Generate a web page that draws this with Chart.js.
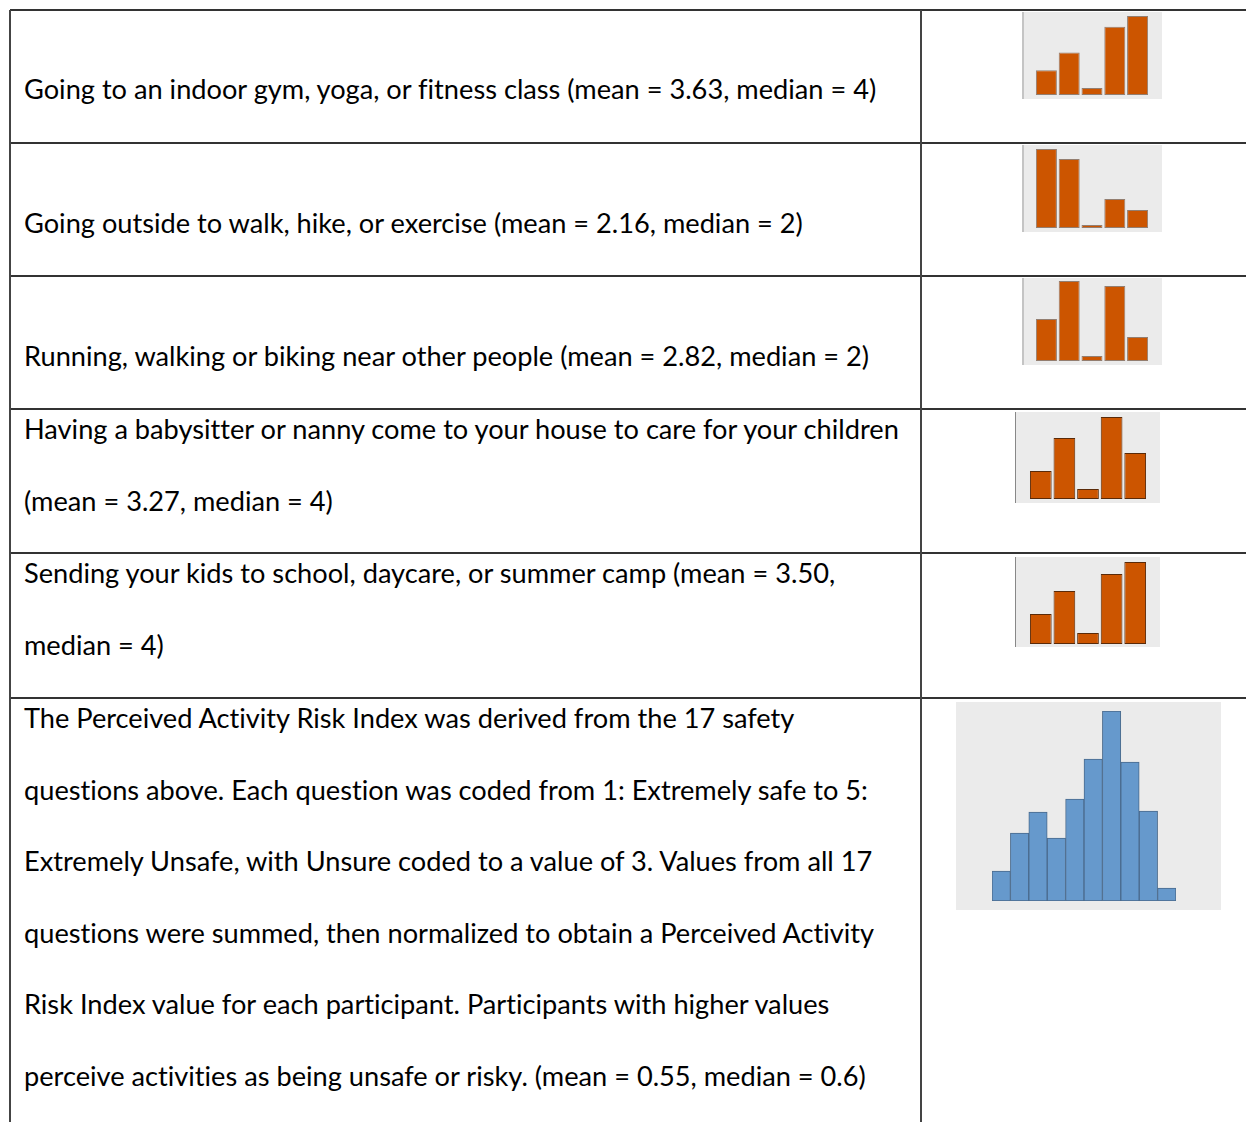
<!DOCTYPE html>
<html>
<head>
<meta charset="utf-8">
<script src="https://cdn.jsdelivr.net/npm/chart.js@4.4.0/dist/chart.umd.min.js"></script>
<style>
  html, body { margin: 0; padding: 0; background: #fff; }
  body { width: 1246px; height: 1122px; position: relative; overflow: hidden;
         font-family: Lato, "Open Sans", sans-serif; font-size: 27.2px; color: #000;
         font-variant-ligatures: none; }
  .hl { position: absolute; left: 10px; right: 0; height: 2px; background: #333; }
  .vl { position: absolute; top: 10px; bottom: 0; width: 2px; background: #444; }
  .txt { position: absolute; left: 24px; line-height: 71.6px; white-space: nowrap; }
  .box { position: absolute; background: #ebebeb; }
  .box canvas { display: block; }
</style>
</head>
<body>

<div class="hl" style="top:9px"></div>
<div class="hl" style="top:142px"></div>
<div class="hl" style="top:275px"></div>
<div class="hl" style="top:408px"></div>
<div class="hl" style="top:552px"></div>
<div class="hl" style="top:697px"></div>
<div class="vl" style="left:9px"></div>
<div class="vl" style="left:920px"></div>

<div class="txt" style="top:53px">Going to an indoor gym, yoga, or fitness class (mean = 3.63, median = 4)</div>
<div class="txt" style="top:187px">Going outside to walk, hike, or exercise (mean = 2.16, median = 2)</div>
<div class="txt" style="top:320px">Running, walking or biking near other people (mean = 2.82, median = 2)</div>
<div class="txt" style="top:393px">Having a babysitter or nanny come to your house to care for your children<br>(mean = 3.27, median = 4)</div>
<div class="txt" style="top:537px">Sending your kids to school, daycare, or summer camp (mean = 3.50,<br>median = 4)</div>
<div class="txt" style="top:682px">The Perceived Activity Risk Index was derived from the 17 safety<br>questions above. Each question was coded from 1: Extremely safe to 5:<br>Extremely Unsafe, with Unsure coded to a value of 3. Values from all 17<br>questions were summed, then normalized to obtain a Perceived Activity<br>Risk Index value for each participant. Participants with higher values<br>perceive activities as being unsafe or risky. (mean = 0.55, median = 0.6)</div>

<div class="box" style="left:1022px;top:12px;width:140px;height:87px;box-shadow:inset 2px 0 #c4c4c4"><canvas id="gym" width="140" height="87"></canvas></div>
<div class="box" style="left:1022px;top:145px;width:140px;height:87px;box-shadow:inset 2px 0 #c4c4c4"><canvas id="outside" width="140" height="87"></canvas></div>
<div class="box" style="left:1022px;top:278px;width:140px;height:87px;box-shadow:inset 2px 0 #c4c4c4"><canvas id="running" width="140" height="87"></canvas></div>
<div class="box" style="left:1015px;top:412px;width:145px;height:91px;box-shadow:inset 1px 0 #888"><canvas id="babysitter" width="145" height="91"></canvas></div>
<div class="box" style="left:1015px;top:557px;width:145px;height:90px;box-shadow:inset 1px 0 #888"><canvas id="school" width="145" height="90"></canvas></div>
<div class="box" style="left:956px;top:702px;width:265px;height:208px"><canvas id="risk" width="265" height="208"></canvas></div>

<script>
// response codes 1 (extremely safe) .. 5 (extremely unsafe), Unsure = 3
const responseCodes = ['1', '2', '3', '4', '5'];
const gymCounts = [25, 43, 7, 69, 80];
const outsideCounts = [79, 69, 3, 29, 18];
const runningCounts = [42, 80, 5, 75, 24];
const babysitterCounts = [28, 61, 10, 82, 46];
const schoolCounts = [30, 53, 11, 70, 82];

// Perceived Activity Risk Index histogram
const riskBins = ['0.0', '0.1', '0.2', '0.3', '0.4', '0.5', '0.6', '0.7', '0.8', '0.9'];
const riskCounts = [30, 68, 89, 63, 102, 142, 190, 139, 90, 13];

const orange = '#cc5500';
const blue = '#6699cc';

function miniBars(id, labels, values, color, edge, barPct, pad) {
    return new Chart(document.getElementById(id), {
        type: 'bar',
        data: {
            labels: labels,
            datasets: [{
                data: values,
                backgroundColor: color,
                borderColor: edge,
                borderWidth: 1,
                borderSkipped: false,
                barPercentage: barPct,
                categoryPercentage: 1
            }]
        },
        options: {
            responsive: false,
            animation: false,
            layout: { padding: pad },
            plugins: { legend: { display: false }, tooltip: { enabled: false } },
            scales: {
                x: { display: false },
                y: { display: false, min: 0, max: Math.max(...values) }
            }
        }
    });
}

miniBars('gym', responseCodes, gymCounts, orange, 'rgba(110,80,60,0.7)', 0.92, {left: 13, right: 13, top: 4, bottom: 4});
miniBars('outside', responseCodes, outsideCounts, orange, 'rgba(110,80,60,0.7)', 0.92, {left: 13, right: 13, top: 4, bottom: 4});
miniBars('running', responseCodes, runningCounts, orange, 'rgba(110,80,60,0.7)', 0.92, {left: 13, right: 13, top: 3, bottom: 4});
miniBars('babysitter', responseCodes, babysitterCounts, orange, '#5a2a08', 0.92, {left: 14, right: 13, top: 5, bottom: 4});
miniBars('school', responseCodes, schoolCounts, orange, '#5a2a08', 0.92, {left: 14, right: 13, top: 5, bottom: 3});
miniBars('risk', riskBins, riskCounts, blue, '#4a6a8c', 1, {left: 36, right: 45, top: 9, bottom: 9});
</script>
</body>
</html>
